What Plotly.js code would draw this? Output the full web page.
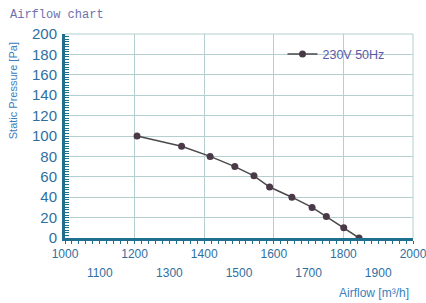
<!DOCTYPE html>
<html>
<head>
<meta charset="utf-8">
<script src="https://cdn.plot.ly/plotly-3.0.1.min.js"></script>
<style>html,body{margin:0;padding:0;background:#fff;}#chart{width:426px;height:303px;}</style>
</head>
<body>
<div id="chart"></div>
<script>
const airflow = [1207, 1335, 1417, 1488, 1543, 1588, 1652, 1710, 1751, 1801, 1845];
const pressure = [100, 90, 80, 70, 61, 50, 40, 30, 21, 10, 0];
const seriesName = '230V 50Hz';
const xTicksRow1 = [1000, 1200, 1400, 1600, 1800, 2000];
const xTicksRow2 = [1100, 1300, 1500, 1700, 1900];
const yTicks = [0, 20, 40, 60, 80, 100, 120, 140, 160, 180, 200];

const axisBlue = '#1f6f8f';
const labelBlue = '#2f6fa0';
const gridCol = '#b5cece';

const traces = [{
  x: airflow, y: pressure, type: 'scatter', mode: 'lines+markers', name: seriesName,
  line: {color: '#4a4a4a', width: 1.5},
  marker: {color: '#4a3a48', size: 7},
  xaxis: 'x', yaxis: 'y'
}, {
  x: [1500], y: [-50], type: 'scatter', mode: 'markers', showlegend: false,
  hoverinfo: 'skip', marker: {opacity: 0}, xaxis: 'x2', yaxis: 'y'
}];

const layout = {
  width: 426, height: 303,
  margin: {l: 65, r: 13, t: 34, b: 65},
  paper_bgcolor: '#ffffff', plot_bgcolor: '#ffffff',
  font: {family: 'Liberation Sans, Arial, sans-serif', color: labelBlue},
  showlegend: true,
  legend: {x: 0.625, y: 0.9, xanchor: 'left', yanchor: 'middle', bgcolor: 'rgba(0,0,0,0)',
    font: {size: 12.5, color: '#5a5aa5', family: 'Liberation Sans, Arial, sans-serif'},
    itemwidth: 30, tracegroupgap: 0},
  xaxis: {
    range: [1000, 2000], tickmode: 'array', tickvals: xTicksRow1, ticktext: xTicksRow1.map(String),
    showgrid: true, gridcolor: gridCol, gridwidth: 1,
    showline: true, linecolor: axisBlue, linewidth: 3,
    ticks: 'outside', ticklen: 3, tickcolor: axisBlue, tickwidth: 1,
    minor: {dtick: 20, ticks: 'outside', ticklen: 3, tickcolor: axisBlue, showgrid: false},
    tickfont: {size: 12, color: labelBlue}, zeroline: false, ticklabeloverflow: 'allow'
  },
  xaxis2: {
    range: [1000, 2000], overlaying: 'x', anchor: 'y', side: 'bottom',
    tickmode: 'array', tickvals: xTicksRow2, ticktext: xTicksRow2.map(String),
    showgrid: false, showline: false, ticks: '', ticklabelstandoff: 26,
    tickfont: {size: 12, color: labelBlue}, zeroline: false, ticklabeloverflow: 'allow'
  },
  yaxis: {
    range: [0, 200], tickmode: 'array', tickvals: yTicks,
    showgrid: true, gridcolor: gridCol, gridwidth: 1,
    showline: true, linecolor: axisBlue, linewidth: 3,
    ticks: 'inside', ticklen: 4, tickcolor: axisBlue, tickwidth: 1,
    minor: {dtick: 2.5, ticks: 'inside', ticklen: 4, tickcolor: axisBlue, showgrid: false},
    tickfont: {size: 15, color: labelBlue}, zeroline: false, ticklabelstandoff: 2
  },
  shapes: [
    {type: 'line', xref: 'paper', yref: 'paper', x0: 1, x1: 1, y0: 0, y1: 1, line: {color: gridCol, width: 1}},
    {type: 'line', xref: 'paper', yref: 'paper', x0: 0, x1: 1, y0: 1, y1: 1, line: {color: gridCol, width: 1}}
  ],
  annotations: [
    {text: 'Airflow chart', xref: 'paper', yref: 'paper', x: -0.165, y: 1.093, xanchor: 'left', yanchor: 'middle',
     showarrow: false, font: {family: 'Liberation Mono, DejaVu Sans Mono, monospace', size: 12, color: '#7070b0'}},
    {text: 'Static Pressure [Pa]', xref: 'paper', yref: 'paper', x: -0.149, y: 0.72, xanchor: 'center', yanchor: 'middle',
     textangle: -90, showarrow: false, font: {size: 11, color: '#3a80c0'}},
    {text: 'Airflow [m³/h]', xref: 'paper', yref: 'paper', x: 0.995, y: -0.27, xanchor: 'right', yanchor: 'middle',
     showarrow: false, font: {size: 12, color: '#3a80c0'}}
  ]
};

Plotly.newPlot('chart', traces, layout, {displayModeBar: false, staticPlot: true});
</script>
</body>
</html>
